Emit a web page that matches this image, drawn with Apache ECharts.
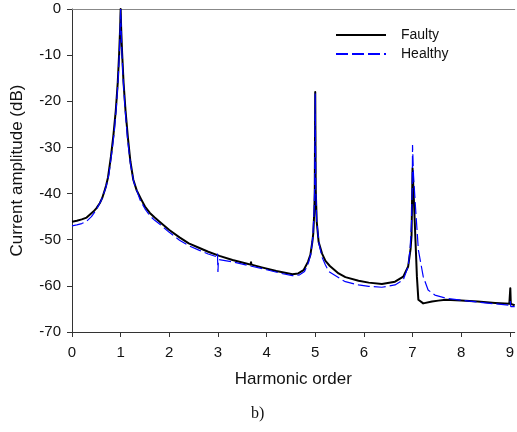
<!DOCTYPE html>
<html>
<head>
<meta charset="utf-8">
<script src="https://cdn.jsdelivr.net/npm/echarts@6/dist/echarts.min.js"></script>
<style>
html,body{margin:0;padding:0;background:#fff;}
#chart{width:517px;height:432px;}
</style>
</head>
<body>
<div id="chart"></div>
<script>
// Harmonic order (x) and amplitude (dB)
const faultyX = [0,0.1,0.2,0.3,0.44,0.5,0.57,0.62,0.675,0.7,0.74,0.8,0.85,0.9,0.94,0.97,0.99,1.0,1.01,1.03,1.06,1.1,1.15,1.2,1.26,1.33,1.42,1.5,1.6,1.7,1.8,2.0,2.21,2.4,2.62,2.8,3.03,3.3,3.6,3.67,3.68,3.69,3.9,4.2,4.53,4.65,4.76,4.85,4.9,4.94,4.96,4.98,4.99,5.0,5.01,5.03,5.07,5.14,5.21,5.3,5.48,5.62,5.89,6.1,6.37,6.64,6.81,6.91,6.96,6.98,7.0,7.03,7.06,7.09,7.12,7.22,7.4,7.53,7.68,7.7,7.72,8.0,8.34,8.7,8.99,9.01,9.02,9.1];
const faultyY = [-46.1,-45.9,-45.6,-45.2,-43.9,-43.2,-42.1,-41.0,-39.2,-38.3,-36.5,-32,-27.5,-22,-16,-9.5,-4,0,-4,-9.5,-16,-22,-28,-33,-37,-39.3,-41.2,-42.8,-44.2,-45.2,-46.1,-47.9,-49.5,-50.8,-51.8,-52.6,-53.5,-54.4,-55.2,-55.4,-54.9,-55.4,-56.0,-56.8,-57.5,-57.3,-56.6,-54.8,-53.3,-50.5,-48.6,-44,-39.9,-18,-39,-46,-50.5,-53,-54.6,-55.7,-57.3,-58.1,-58.9,-59.3,-59.6,-59.1,-58,-55.8,-52,-49,-34.5,-42,-50,-58,-63,-63.8,-63.4,-63.2,-63.0,-62.6,-63,-63.2,-63.4,-63.7,-63.9,-60.5,-63.9,-64.2];
const healthyX = [0,0.1,0.2,0.3,0.4,0.5,0.6,0.7,0.76,0.82,0.87,0.91,0.95,0.98,1.0,1.02,1.05,1.09,1.14,1.2,1.27,1.4,1.5,1.6,1.7,1.8,2.0,2.21,2.4,2.62,2.8,2.98,2.99,3.0,3.01,3.03,3.3,3.67,4.0,4.3,4.53,4.68,4.78,4.86,4.91,4.95,4.98,4.99,5.0,5.01,5.03,5.08,5.14,5.21,5.28,5.55,5.62,5.89,6.1,6.37,6.64,6.81,6.91,6.95,6.98,6.995,7.0,7.02,7.06,7.12,7.22,7.32,7.46,7.7,8.0,8.34,8.7,8.99,9.01,9.02,9.1];
const healthyY = [-47.0,-46.8,-46.5,-46.0,-45.0,-43.5,-41.5,-38.6,-35.8,-31,-26.5,-21.5,-15,-8,0,-8,-15,-21.5,-28,-33.5,-37.5,-41.4,-43.3,-44.8,-45.8,-46.6,-48.4,-50.1,-51.3,-52.3,-53.1,-53.7,-53.0,-57,-54.3,-54.0,-54.8,-55.7,-56.5,-57.3,-57.8,-57.6,-56.9,-55,-53,-49.5,-43,-37,-18.3,-38,-46,-51,-53.8,-55.5,-56.9,-58.7,-59.1,-59.8,-60.1,-60.3,-59.8,-58.7,-55.8,-52,-46,-38,-29.5,-36,-42.8,-52.2,-58,-60.9,-62,-62.7,-63.1,-63.5,-63.9,-64.2,-63.3,-64.5,-64.5];
const xTicks = [0,1,2,3,4,5,6,7,8,9];
const yTicks = [0,-10,-20,-30,-40,-50,-60,-70];
const seriesNames = ['Faulty','Healthy'];

const zip = (xs, ys) => xs.map((x, i) => [x, ys[i]]);
const chart = echarts.init(document.getElementById('chart'), null, {renderer:'canvas'});
const font = 'Liberation Sans, Arial, sans-serif';
chart.setOption({
  animation: false,
  backgroundColor: '#fff',
  grid: {left: 72, right: 0, top: 9, bottom: 100, containLabel: false},
  legend: {
    orient: 'vertical', left: 330, top: 23, itemWidth: 50, itemHeight: 14, itemGap: 5,
    itemStyle: {opacity: 0},
    textStyle: {fontFamily: font, fontSize: 14, color: '#111', padding: [0,0,0,10]},
    data: seriesNames
  },
  xAxis: [{
    type: 'value', min: 0, max: 9.1, interval: 1,
    name: 'Harmonic order', nameLocation: 'middle', nameGap: 39,
    nameTextStyle: {fontFamily: font, fontSize: 17, color: '#111'},
    axisLine: {show: true, onZero: false, lineStyle: {color: '#333', width: 1}},
    axisTick: {show: true, inside: false, length: 5, customValues: xTicks, lineStyle: {color: '#333'}},
    axisLabel: {customValues: xTicks, margin: 13, fontFamily: font, fontSize: 15, color: '#111'},
    splitLine: {show: false}
  }, {
    type: 'value', min: 0, max: 9.1, position: 'top',
    axisLine: {show: true, onZero: false, lineStyle: {color: '#888', width: 1}},
    axisTick: {show: false}, axisLabel: {show: false}, splitLine: {show: false}
  }],
  yAxis: {
    type: 'value', min: -70, max: 0, interval: 10,
    name: 'Current amplitude (dB)', nameLocation: 'middle', nameGap: 46,
    nameTextStyle: {fontFamily: font, fontSize: 17, color: '#111'},
    axisLine: {show: true, onZero: false, lineStyle: {color: '#333', width: 1}},
    axisTick: {show: true, inside: false, length: 5, customValues: yTicks, lineStyle: {color: '#333'}},
    axisLabel: {customValues: yTicks, margin: 11, fontFamily: font, fontSize: 15, color: '#111'},
    splitLine: {show: false}
  },
  series: [{
    name: seriesNames[0], type: 'line', xAxisIndex: 0, data: zip(faultyX, faultyY),
    showSymbol: false, symbol: 'none', smooth: false,
    lineStyle: {color: '#000', width: 2, join: 'round'}, itemStyle: {color: '#000'}, z: 2
  }, {
    name: seriesNames[1], type: 'line', xAxisIndex: 0, data: zip(healthyX, healthyY),
    showSymbol: false, symbol: 'none', smooth: false,
    lineStyle: {color: '#0000ff', width: 1.2, type: [12, 4]}, itemStyle: {color: '#0000ff'}, z: 3
  }],
  graphic: [{
    type: 'text', left: 251, top: 406,
    style: {text: 'b)', font: '16px "Liberation Serif", "Times New Roman", serif', fill: '#111'}
  }]
});
</script>
</body>
</html>
